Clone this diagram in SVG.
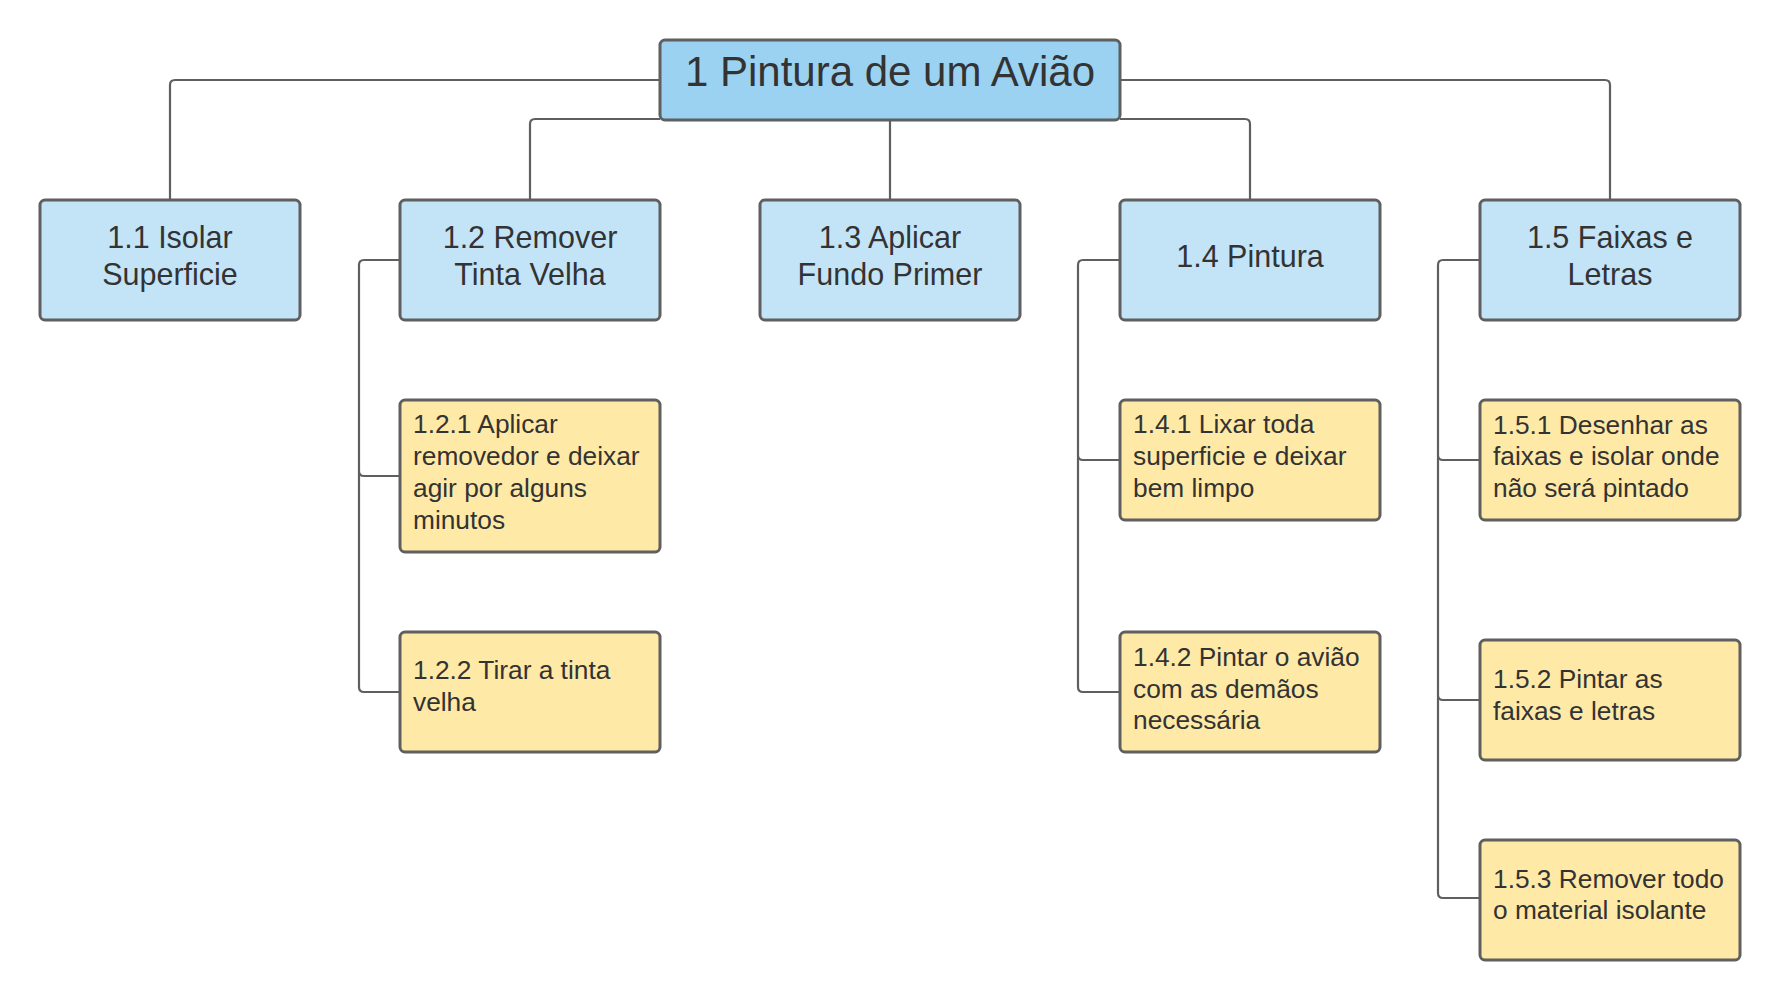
<svg xmlns="http://www.w3.org/2000/svg" width="1780" height="1000" viewBox="0 0 1780 1000">
<style>
.box{stroke:#5f5f5f;stroke-width:3}
.root{fill:#9bd2f2}
.l2{fill:#c3e4f7}
.l3{fill:#ffe9a6}
.conn{fill:none;stroke:#5f5f5f;stroke-width:2.2;stroke-linejoin:round}
text{font-family:"Liberation Sans",Arial,sans-serif;fill:#333333}
.t1{font-size:42px;text-anchor:middle}
.t2{font-size:30.5px;text-anchor:middle}
.t3{font-size:26.3px}
</style>
<rect width="1780" height="1000" fill="#ffffff"/>
<g id="connectors">
<path class="conn" d="M660,80 H175 Q170,80 170,85 V200"/>
<path class="conn" d="M660,119 H535 Q530,119 530,124 V200"/>
<path class="conn" d="M890,120 V200"/>
<path class="conn" d="M1120,119 H1245 Q1250,119 1250,124 V200"/>
<path class="conn" d="M1120,80 H1605 Q1610,80 1610,85 V200"/>
<path class="conn" d="M400,260 H364 Q359,260 359,265 V687 Q359,692 364,692 H400 M359,471 Q359,476 364,476 H400"/>
<path class="conn" d="M1120,260 H1083 Q1078,260 1078,265 V687 Q1078,692 1083,692 H1120 M1078,455 Q1078,460 1083,460 H1120"/>
<path class="conn" d="M1480,260 H1443 Q1438,260 1438,265 V893 Q1438,898 1443,898 H1480 M1438,455 Q1438,460 1443,460 H1480 M1438,695 Q1438,700 1443,700 H1480"/>
</g>
<g id="n1">
<rect class="box root" x="660" y="40" width="460" height="80" rx="5"/>
<text class="t1" x="890" y="86">1 Pintura de um Avião</text>
</g>
<g id="n1_1">
<rect class="box l2" x="40" y="200" width="260" height="120" rx="5"/>
<text class="t2" x="170" y="248">1.1 Isolar</text>
<text class="t2" x="170" y="284.5">Superficie</text>
</g>
<g id="n1_2">
<rect class="box l2" x="400" y="200" width="260" height="120" rx="5"/>
<text class="t2" x="530" y="248">1.2 Remover</text>
<text class="t2" x="530" y="284.5">Tinta Velha</text>
</g>
<g id="n1_3">
<rect class="box l2" x="760" y="200" width="260" height="120" rx="5"/>
<text class="t2" x="890" y="248">1.3 Aplicar</text>
<text class="t2" x="890" y="284.5">Fundo Primer</text>
</g>
<g id="n1_4">
<rect class="box l2" x="1120" y="200" width="260" height="120" rx="5"/>
<text class="t2" x="1250" y="266.5">1.4 Pintura</text>
</g>
<g id="n1_5">
<rect class="box l2" x="1480" y="200" width="260" height="120" rx="5"/>
<text class="t2" x="1610" y="248">1.5 Faixas e</text>
<text class="t2" x="1610" y="284.5">Letras</text>
</g>
<g id="n1_2_1">
<rect class="box l3" x="400" y="400" width="260" height="152" rx="5"/>
<text class="t3" x="413" y="433">1.2.1 Aplicar</text>
<text class="t3" x="413" y="465">removedor e deixar</text>
<text class="t3" x="413" y="497">agir por alguns</text>
<text class="t3" x="413" y="529">minutos</text>
</g>
<g id="n1_2_2">
<rect class="box l3" x="400" y="632" width="260" height="120" rx="5"/>
<text class="t3" x="413" y="679">1.2.2 Tirar a tinta</text>
<text class="t3" x="413" y="711">velha</text>
</g>
<g id="n1_4_1">
<rect class="box l3" x="1120" y="400" width="260" height="120" rx="5"/>
<text class="t3" x="1133" y="433">1.4.1 Lixar toda</text>
<text class="t3" x="1133" y="465">superficie e deixar</text>
<text class="t3" x="1133" y="497">bem limpo</text>
</g>
<g id="n1_4_2">
<rect class="box l3" x="1120" y="632" width="260" height="120" rx="5"/>
<text class="t3" x="1133" y="666">1.4.2 Pintar o avião</text>
<text class="t3" x="1133" y="697.5">com as demãos</text>
<text class="t3" x="1133" y="729">necessária</text>
</g>
<g id="n1_5_1">
<rect class="box l3" x="1480" y="400" width="260" height="120" rx="5"/>
<text class="t3" x="1493" y="433.5">1.5.1 Desenhar as</text>
<text class="t3" x="1493" y="465">faixas e isolar onde</text>
<text class="t3" x="1493" y="497">não será pintado</text>
</g>
<g id="n1_5_2">
<rect class="box l3" x="1480" y="640" width="260" height="120" rx="5"/>
<text class="t3" x="1493" y="688">1.5.2 Pintar as</text>
<text class="t3" x="1493" y="719.5">faixas e letras</text>
</g>
<g id="n1_5_3">
<rect class="box l3" x="1480" y="840" width="260" height="120" rx="5"/>
<text class="t3" x="1493" y="888">1.5.3 Remover todo</text>
<text class="t3" x="1493" y="919">o material isolante</text>
</g>
</svg>
